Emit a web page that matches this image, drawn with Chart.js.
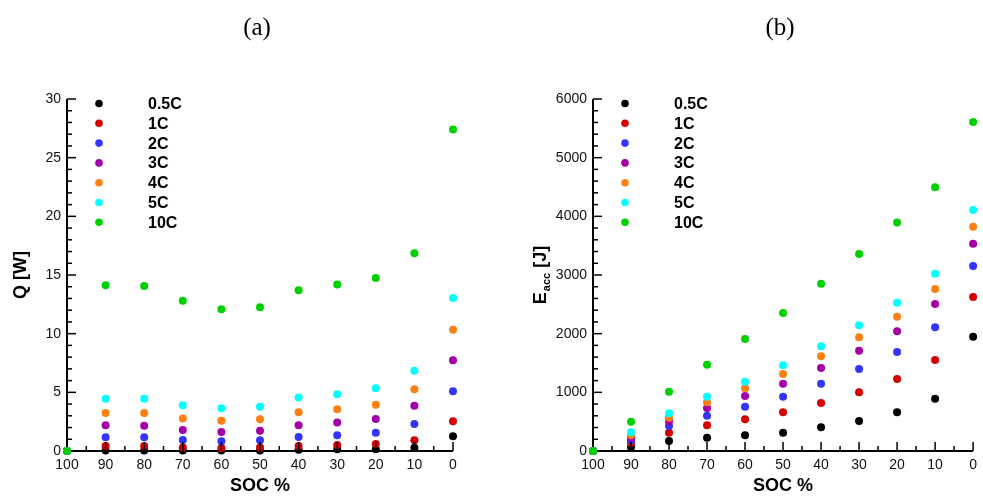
<!DOCTYPE html>
<html>
<head>
<meta charset="utf-8">
<script src="https://cdn.jsdelivr.net/npm/chart.js@4"></script>
<style>
  html, body { margin: 0; padding: 0; background: #fff; }
  body { width: 983px; height: 499px; position: relative; overflow: hidden; }
  canvas { position: absolute; top: 0; }
  #chartA { left: 0; }
  #chartB { left: 512px; }
</style>
</head>
<body>
<canvas id="chartA" width="512" height="499"></canvas>
<canvas id="chartB" width="471" height="499"></canvas>
<script>
// SOC categories (x axis, left to right)
const soc = ['100', '90', '80', '70', '60', '50', '40', '30', '20', '10', '0'];
const rates = ['0.5C', '1C', '2C', '3C', '4C', '5C', '10C'];
const colors = ['#000000', '#d40000', '#3434ff', '#a400a8', '#ff8012', '#00ffff', '#00d000'];

// (a) heat generation Q [W]
const q05 = [0, 0.05, 0.05, 0.05, 0.05, 0.05, 0.1, 0.15, 0.15, 0.28, 1.25];
const q1  = [0, 0.43, 0.43, 0.3, 0.26, 0.3, 0.43, 0.51, 0.6, 0.91, 2.53];
const q2  = [0, 1.17, 1.17, 0.94, 0.83, 0.91, 1.19, 1.34, 1.56, 2.3, 5.09];
const q3  = [0, 2.19, 2.16, 1.79, 1.62, 1.73, 2.2, 2.42, 2.73, 3.86, 7.73];
const q4  = [0, 3.24, 3.24, 2.78, 2.58, 2.7, 3.3, 3.55, 3.95, 5.26, 10.34];
const q5  = [0, 4.46, 4.46, 3.9, 3.64, 3.78, 4.55, 4.83, 5.34, 6.85, 13.04];
const q10 = [0, 14.12, 14.07, 12.8, 12.08, 12.25, 13.7, 14.2, 14.75, 16.85, 27.4];

// (b) accumulated energy E_acc [J]
const e05 = [0, 63, 170, 227, 267, 312, 403, 511, 659, 892, 1948];
const e1  = [0, 140, 312, 438, 540, 659, 818, 1000, 1227, 1551, 2625];
const e2  = [0, 185, 426, 602, 756, 926, 1148, 1398, 1687, 2108, 3153];
const e3  = [0, 225, 506, 733, 937, 1148, 1415, 1710, 2040, 2505, 3534];
const e4  = [0, 270, 568, 830, 1068, 1312, 1614, 1938, 2290, 2761, 3824];
const e5  = [0, 319, 642, 926, 1182, 1460, 1784, 2142, 2528, 3022, 4108];
const e10 = [0, 500, 1011, 1471, 1909, 2352, 2852, 3358, 3895, 4497, 5608];

const sansFont = "'Liberation Sans', Arial, sans-serif";
Chart.defaults.font.family = sansFont;

function strokeLine(ctx, x1, y1, x2, y2) {
  ctx.beginPath(); ctx.moveTo(x1, y1); ctx.lineTo(x2, y2); ctx.stroke();
}

// axis lines, inward ticks, legend, panel label and axis titles
const framePlugin = {
  id: 'frame',
  beforeDatasetsDraw(chart, args, opts) {
    const { ctx, chartArea: a, scales } = chart;
    const y = scales.y;
    ctx.save();
    ctx.strokeStyle = '#000';
    // ticks on y axis
    ctx.lineWidth = 1.5;
    const nMinor = Math.round((y.max - y.min) / opts.minor);
    for (let k = 0; k <= nMinor; k++) {
      const v = y.min + k * opts.minor;
      const py = y.getPixelForValue(v);
      const major = Math.abs(v / opts.major - Math.round(v / opts.major)) < 1e-6;
      strokeLine(ctx, a.left, py, a.left + (major ? 9 : 5), py);
    }
    // axis lines
    ctx.lineWidth = 2;
    ctx.beginPath();
    ctx.moveTo(a.left, a.top);
    ctx.lineTo(a.left, a.bottom);
    ctx.lineTo(a.right, a.bottom);
    ctx.stroke();
    ctx.restore();
  },
  afterDatasetsDraw(chart, args, opts) {
    const { ctx, chartArea: a, scales } = chart;
    const x = scales.x;
    ctx.save();
    ctx.strokeStyle = '#000';

    // ticks on x axis (major at each SOC, minor halfway)
    ctx.lineWidth = 1.5;
    for (let i = 0; i < soc.length; i++) {
      const px = x.getPixelForValue(i);
      if (i > 0) strokeLine(ctx, px, a.bottom, px, a.bottom - 9);
      if (i < soc.length - 1) {
        const mx = (px + x.getPixelForValue(i + 1)) / 2;
        strokeLine(ctx, mx, a.bottom, mx, a.bottom - 5);
      }
    }

    // legend
    chart.data.datasets.forEach((ds, i) => {
      const ly = a.top + 4.5 + i * 19.8;
      ctx.fillStyle = ds.backgroundColor;
      ctx.beginPath();
      ctx.arc(a.left + 32, ly, 3.8, 0, Math.PI * 2);
      ctx.fill();
      ctx.fillStyle = '#000';
      ctx.font = "bold 16px " + sansFont;
      ctx.textAlign = 'left';
      ctx.textBaseline = 'middle';
      ctx.fillText(ds.label, a.left + 81, ly + 1);
    });

    // panel label
    const cx = (a.left + a.right) / 2;
    ctx.fillStyle = '#000';
    ctx.font = "25px 'Liberation Serif', 'Times New Roman', serif";
    ctx.textAlign = 'center';
    ctx.textBaseline = 'middle';
    ctx.fillText(opts.panel, cx - 3, 28);

    // x axis title
    ctx.font = "bold 18px " + sansFont;
    ctx.fillText('SOC %', cx, 486);

    // y axis title (with optional subscript)
    ctx.translate(opts.yTitleX, (a.top + a.bottom) / 2);
    ctx.rotate(-Math.PI / 2);
    const mainFont = "bold 18px " + sansFont;
    const subFont = "bold 11px " + sansFont;
    ctx.textAlign = 'left';
    ctx.textBaseline = 'middle';
    ctx.font = mainFont;
    const w1 = ctx.measureText(opts.yMain).width;
    const w3 = ctx.measureText(opts.yUnit).width;
    ctx.font = subFont;
    const w2 = opts.ySub ? ctx.measureText(opts.ySub).width + 1 : 0;
    let tx = -(w1 + w2 + w3) / 2;
    ctx.font = mainFont;
    ctx.fillText(opts.yMain, tx, 0);
    tx += w1;
    if (opts.ySub) {
      ctx.font = subFont;
      ctx.fillText(opts.ySub, tx + 1, 6);
      tx += w2;
    }
    ctx.font = mainFont;
    ctx.fillText(opts.yUnit, tx, 0);
    ctx.restore();
  }
};

function makeDatasets(series) {
  return series.map((data, i) => ({
    label: rates[i],
    data: data,
    showLine: false,
    clip: false,
    backgroundColor: colors[i],
    borderColor: colors[i],
    pointRadius: 4,
    pointHoverRadius: 4,
    pointBorderWidth: 0,
    order: series.length - i
  }));
}

function makeChart(id, series, yMax, yStep, yWidth, padRight, frameOpts) {
  return new Chart(document.getElementById(id), {
    type: 'line',
    data: { labels: soc, datasets: makeDatasets(series) },
    options: {
      responsive: false,
      animation: false,
      devicePixelRatio: 1,
      layout: { padding: { top: 99, right: padRight, bottom: 0, left: 0 } },
      plugins: {
        legend: { display: false },
        tooltip: { enabled: false },
        frame: frameOpts
      },
      scales: {
        x: {
          type: 'category',
          offset: false,
          grid: { display: false, drawTicks: false },
          border: { display: false },
          ticks: { color: '#111', font: { size: 14 }, padding: 6, maxRotation: 0, autoSkip: false },
          afterFit(s) { s.height = 48; }
        },
        y: {
          min: 0,
          max: yMax,
          grid: { display: false, drawTicks: false },
          border: { display: false },
          ticks: {
            stepSize: yStep,
            color: '#111',
            font: { size: 14 },
            padding: 6,
            callback: v => String(v)
          },
          afterFit(s) { s.width = yWidth; }
        }
      }
    },
    plugins: [framePlugin]
  });
}

makeChart('chartA', [q05, q1, q2, q3, q4, q5, q10], 30, 5, 67, 59,
  { panel: '(a)', minor: 1, major: 5, yTitleX: 21, yMain: 'Q', ySub: '', yUnit: ' [W]' });

makeChart('chartB', [e05, e1, e2, e3, e4, e5, e10], 6000, 1000, 81, 4,
  { panel: '(b)', minor: 200, major: 1000, yTitleX: 29, yMain: 'E', ySub: 'acc', yUnit: ' [J]' });
</script>
</body>
</html>
